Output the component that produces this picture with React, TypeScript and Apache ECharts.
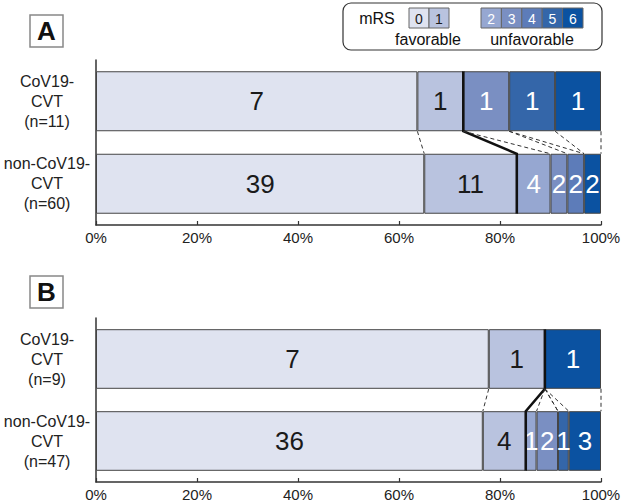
import React, { useEffect, useRef } from "react";
import * as echarts from "echarts";

const MRS_LEVELS = ["0", "1", "2", "3", "4", "5", "6"];
const MRS_COLORS = ["#dfe3f0", "#b9c3df", "#96a7d1", "#7a8fc2", "#5d7cb9", "#3466a9", "#0b52a1"];
const CATEGORIES_A = ["CoV19-\nCVT\n(n=11)", "non-CoV19-\nCVT\n(n=60)"];
const COUNTS_A = [
  [7, 1, 0, 1, 0, 1, 1],
  [39, 11, 4, 2, 2, 0, 2],
];
const CATEGORIES_B = ["CoV19-\nCVT\n(n=9)", "non-CoV19-\nCVT\n(n=47)"];
const COUNTS_B = [
  [7, 1, 0, 0, 0, 0, 1],
  [36, 4, 1, 2, 0, 1, 3],
];
const X_TICKS = [0, 20, 40, 60, 80, 100];
const PANEL_LETTERS = ["A", "B"];

const FONT = "Liberation Sans, Arial, Helvetica, sans-serif";
const BAR_FRAC = 0.727;

function cumulative(row: number[]) {
  const n = row.reduce((a, b) => a + b, 0);
  const out: number[] = [];
  let s = 0;
  for (const v of row) {
    s += v;
    out.push((s / n) * 100);
  }
  return out;
}

export default function App() {
  const ref = useRef<HTMLDivElement>(null);

  useEffect(() => {
    if (!ref.current) return;
    const chart = echarts.init(ref.current, null, { renderer: "svg" });

    const panels = [
      { cats: CATEGORIES_A, counts: COUNTS_A, top: 60 },
      { cats: CATEGORIES_B, counts: COUNTS_B, top: 318 },
    ];

    const grids: any[] = [];
    const xAxes: any[] = [];
    const yAxes: any[] = [];
    const series: any[] = [];

    panels.forEach((p, pi) => {
      grids.push({ left: 96, width: 505, top: p.top, height: 165 });
      xAxes.push({
        type: "value",
        gridIndex: pi,
        min: 0,
        max: 100,
        interval: 20,
        axisLine: { show: true, lineStyle: { color: "#333", width: 1.5 } },
        axisTick: { show: true, inside: true, length: 4, lineStyle: { color: "#333", width: 1.2 } },
        axisLabel: {
          formatter: "{value}%",
          color: "#222",
          fontSize: 15,
          fontFamily: FONT,
          margin: 5,
          customValues: X_TICKS,
        },
        splitLine: { show: false },
      });
      yAxes.push({
        type: "category",
        gridIndex: pi,
        data: p.cats,
        inverse: true,
        axisLine: { show: true, lineStyle: { color: "#333", width: 1.5 } },
        axisTick: { show: false },
        axisLabel: {
          color: "#222",
          fontSize: 16,
          lineHeight: 20,
          fontFamily: FONT,
          align: "center",
          margin: 49,
        },
      });

      const sums = p.counts.map((r) => r.reduce((a, b) => a + b, 0));
      MRS_LEVELS.forEach((lvl, k) => {
        series.push({
          type: "bar",
          name: "mRS " + lvl,
          xAxisIndex: pi,
          yAxisIndex: pi,
          stack: "panel" + pi,
          barWidth: BAR_FRAC * 100 + "%",
          itemStyle: { color: MRS_COLORS[k], borderColor: "#444", borderWidth: 1 },
          label: {
            show: true,
            position: "inside",
            fontSize: 26,
            fontFamily: FONT,
            color: k < 2 ? "#1a1a1a" : "#ffffff",
            formatter: (prm: any) => String(prm.data.count),
          },
          data: p.counts.map((row, ri) =>
            row[k] === 0 ? "-" : { value: (row[k] / sums[ri]) * 100, count: row[k] }
          ),
        });
      });

      const cTop = cumulative(p.counts[0]);
      const cBot = cumulative(p.counts[1]);
      const connData = cTop.map((t, k) => [t, cBot[k], 0, k === 1 ? 1 : 0]);
      series.push({
        type: "custom",
        xAxisIndex: pi,
        yAxisIndex: pi,
        z: 10,
        clip: false,
        encode: { x: [0, 1], y: 2 },
        data: connData,
        renderItem: (params: any, api: any) => {
          const band = api.size([0, 1])[1];
          const half = (band * BAR_FRAC) / 2;
          const a = api.coord([api.value(0), 0]);
          const b = api.coord([api.value(1), 1]);
          const solid = api.value(3) === 1;
          if (solid) {
            return {
              type: "polyline",
              shape: {
                points: [
                  [a[0], a[1] - half],
                  [a[0], a[1] + half],
                  [b[0], b[1] - half],
                  [b[0], b[1] + half],
                ],
              },
              style: { stroke: "#111", lineWidth: 2.5, fill: null },
            };
          }
          return {
            type: "line",
            shape: { x1: a[0], y1: a[1] + half, x2: b[0], y2: b[1] - half },
            style: { stroke: "#333", lineWidth: 1, lineDash: [4, 3] },
          };
        },
      });
    });

    const graphics: any[] = [];
    // panel letters
    [15, 276].forEach((y, i) => {
      graphics.push({
        type: "rect",
        shape: { x: 30, y, width: 33, height: 32 },
        style: { fill: "#fff", stroke: "#888", lineWidth: 1.5 },
      });
      graphics.push({
        type: "text",
        x: 46.5,
        y: y + 16,
        style: {
          text: PANEL_LETTERS[i],
          font: "bold 26px " + FONT,
          fill: "#111",
          align: "center",
          verticalAlign: "middle",
        },
      });
    });

    // legend
    graphics.push({
      type: "rect",
      shape: { x: 343, y: 3, width: 259, height: 47, r: 8 },
      style: { fill: "#fff", stroke: "#333", lineWidth: 1.2 },
    });
    graphics.push({
      type: "text",
      x: 377,
      y: 18,
      style: { text: "mRS", font: "16px " + FONT, fill: "#111", align: "center", verticalAlign: "middle" },
    });
    const boxX = [409, 429, 481, 501.4, 521.8, 542.2, 562.6];
    const boxW = [20, 20, 20.4, 20.4, 20.4, 20.4, 20.4];
    MRS_LEVELS.forEach((lvl, k) => {
      graphics.push({
        type: "rect",
        shape: { x: boxX[k], y: 8, width: boxW[k], height: 20 },
        style: { fill: MRS_COLORS[k], stroke: "#666", lineWidth: 1 },
      });
      graphics.push({
        type: "text",
        x: boxX[k] + boxW[k] / 2,
        y: 18.5,
        style: {
          text: lvl,
          font: "14px " + FONT,
          fill: k < 2 ? "#1a1a1a" : "#ffffff",
          align: "center",
          verticalAlign: "middle",
        },
      });
    });
    graphics.push({
      type: "text",
      x: 428,
      y: 39,
      style: { text: "favorable", font: "16px " + FONT, fill: "#111", align: "center", verticalAlign: "middle" },
    });
    graphics.push({
      type: "text",
      x: 532,
      y: 39,
      style: { text: "unfavorable", font: "16px " + FONT, fill: "#111", align: "center", verticalAlign: "middle" },
    });

    chart.setOption({
      animation: false,
      backgroundColor: "#ffffff",
      textStyle: { fontFamily: FONT },
      grid: grids,
      xAxis: xAxes,
      yAxis: yAxes,
      series,
      graphic: graphics,
    });

    return () => chart.dispose();
  }, []);

  return (
    <div
      ref={ref}
      style={{ position: "fixed", left: 0, top: 0, width: 624, height: 502, background: "#fff" }}
    />
  );
}
